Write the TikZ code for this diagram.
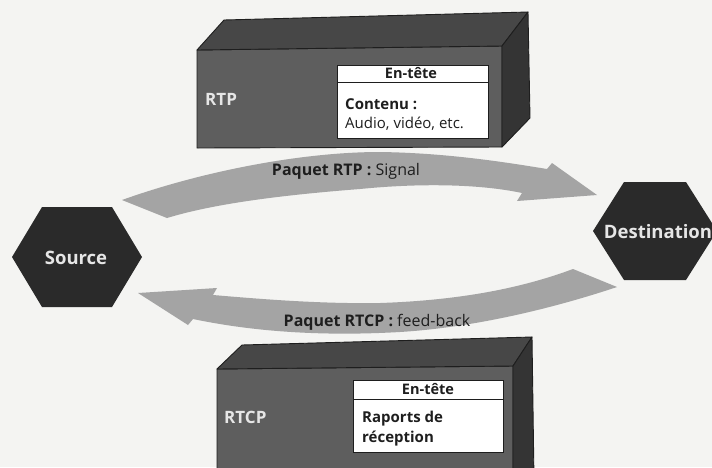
\documentclass[tikz,border=0pt]{standalone}
\usepackage{fontspec}
\setmainfont{Open Sans}
\definecolor{bgc}{HTML}{F4F4F2}
\definecolor{frontc}{HTML}{5E5E5E}
\definecolor{topc}{HTML}{474747}
\definecolor{sidec}{HTML}{343434}
\definecolor{arrc}{HTML}{A4A4A4}
\definecolor{hexc}{HTML}{2A2A2A}
\definecolor{inkc}{HTML}{1E1E1E}
\definecolor{lightc}{HTML}{E6E6E6}
\begin{document}
\begin{tikzpicture}[x=1pt,y=-1pt,
  face/.style={draw=inkc, line width=0.9pt, line join=round},
  whitebox/.style={draw=inkc, line width=0.9pt, fill=white},
  arrowband/.style={fill=arrc},
  hexfill/.style={fill=hexc},
  hexlabel/.style={text=lightc, font=\bfseries\fontsize{18.5}{20}\selectfont, inner sep=0pt},
  boxlabel/.style={text=lightc, font=\bfseries\fontsize{17}{19}\selectfont, inner sep=0pt, anchor=west},
  headtext/.style={text=inkc, font=\bfseries\fontsize{14.5}{15}\selectfont, inner sep=0pt},
  bodytext/.style={text=inkc, font=\fontsize{15}{17}\selectfont, inner sep=0pt, anchor=west},
  bodybold/.style={text=inkc, font=\bfseries\fontsize{15}{17}\selectfont, inner sep=0pt, anchor=west},
  arrlabel/.style={text=inkc, font=\fontsize{16}{18}\selectfont, inner sep=0pt}
]
\useasboundingbox (0,0) rectangle (712,467);
\clip (0,0) rectangle (712,467);
\fill[bgc] (0,0) rectangle (712,467);

% ---------- top box (RTP)
\filldraw[face, fill=frontc] (197,50) -- (502,46) -- (502,147) -- (197,148) -- cycle;
\filldraw[face, fill=topc] (197,50) -- (224,20) -- (528,12) -- (502,46) -- cycle;
\filldraw[face, fill=sidec] (502,46) -- (528,12) -- (530,118) -- (502,147) -- cycle;
\draw[whitebox] (337,65) rectangle (488,82);
\draw[whitebox] (337,82) rectangle (488,138);
\node[headtext] (rtphead) at (411,73.5) {En-tête};
\node[bodybold] (rtpc1) at (345,104) {Contenu :};
\node[bodytext] (rtpc2) at (345,124) {Audio, vidéo, etc.};
\node[boxlabel] (rtp) at (205,99) {RTP};

% ---------- bottom box (RTCP)
\filldraw[face, fill=frontc] (217,369) -- (513,366) -- (513,480) -- (217,480) -- cycle;
\filldraw[face, fill=topc] (217,369) -- (242,345) -- (532,337) -- (513,366) -- cycle;
\filldraw[face, fill=sidec] (513,366) -- (532,337) -- (534,480) -- (513,480) -- cycle;
\draw[whitebox] (353,380) rectangle (503,399);
\draw[whitebox] (353,399) rectangle (503,452);
\node[headtext] (rtcphead) at (428,389.5) {En-tête};
\node[bodybold] (rtcpc1) at (362,419) {Raports de};
\node[bodybold] (rtcpc2) at (362,439) {réception};
\node[boxlabel] (rtcp) at (224,417) {RTCP};

% ---------- hexagons
\fill[hexfill] (12,257) -- (42,207) -- (112,207) -- (142,257) -- (112,307) -- (42,307) -- cycle;
\node[hexlabel] (source) at (76,258) {Source};
\fill[hexfill] (593,231) -- (624,182) -- (686,182) -- (717,231) -- (686,280) -- (624,280) -- cycle;
\node[hexlabel] (dest) at (658,232) {Destination};

% ---------- top arrow (Source -> Destination)
\fill[arrowband] (122,200) .. controls (200,172) and (300,152) .. (380,152)
  .. controls (450,153) and (510,163) .. (547,169) -- (552,163) -- (597,195)
  -- (517,201) -- (522,193) .. controls (480,184) and (420,183) .. (360,189)
  .. controls (270,196) and (210,205) .. (167,218) -- cycle;
\node[arrlabel] (siglabel) at (346,171) {\textbf{Paquet RTP :} Signal};

% ---------- bottom arrow (Destination -> Source)
\fill[arrowband] (138,293) -- (217,288) -- (213,295)
  .. controls (260,299) and (320,304) .. (380,303)
  .. controls (470,300) and (530,285) .. (573,269) -- (617,287)
  .. controls (560,306) and (480,327) .. (400,332)
  .. controls (330,336) and (260,333) .. (193,319) -- (188,325) -- cycle;
\node[arrlabel] (fblabel) at (377,322) {\textbf{Paquet RTCP :} feed-back};
\end{tikzpicture}
\end{document}
